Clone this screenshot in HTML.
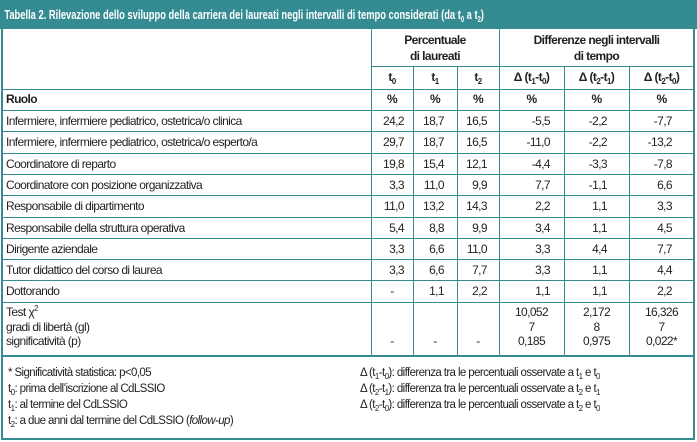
<!DOCTYPE html>
<html><head><meta charset="utf-8"><style>
body{margin:0;width:697px;height:442px;background:#fff;overflow:hidden}
#wrap{position:absolute;left:0;top:0;width:697px;height:442px;font-family:"Liberation Sans Narrow","Liberation Sans",sans-serif;font-size:12px;letter-spacing:-0.6px;color:#231f20}
.title{position:absolute;left:0;top:0;width:697px;height:29px;background:#348c92;color:#fff;font-weight:bold;font-size:13px;letter-spacing:0;line-height:29px;white-space:nowrap;overflow:hidden}
.title span{display:inline-block;transform:scaleX(0.72);transform-origin:left center;padding-left:6px}
.frame{position:absolute;left:1px;top:0;width:694px;height:440px;border:2px solid #348c92;box-sizing:border-box}
.h{position:absolute;height:1px;background:#348c92}
.v{position:absolute;width:1px;background:#348c92}
.t{position:absolute;white-space:nowrap;line-height:15px}
.b{font-weight:bold}
sub{font-size:8px;vertical-align:-3px;line-height:0}
sup{font-size:8px;vertical-align:5px;line-height:0}
.f{font-size:11.5px}
</style></head><body>
<div id="wrap">
<div class="title"><span>Tabella 2. Rilevazione dello sviluppo della carriera dei laureati negli intervalli di tempo considerati (da t<sub>0</sub> a t<sub>2</sub>)</span></div>
<div class="frame"></div>
</div>
<script>
const roles=["Infermiere, infermiere pediatrico, ostetrica/o clinica","Infermiere, infermiere pediatrico, ostetrica/o esperto/a","Coordinatore di reparto","Coordinatore con posizione organizzativa","Responsabile di dipartimento","Responsabile della struttura operativa","Dirigente aziendale","Tutor didattico del corso di laurea","Dottorando"];
const t0=["24,2","29,7","19,8","3,3","11,0","5,4","3,3","3,3","-"];
const t1=["18,7","18,7","15,4","11,0","13,2","8,8","6,6","6,6","1,1"];
const t2=["16,5","16,5","12,1","9,9","14,3","9,9","11,0","7,7","2,2"];
const d10=["-5,5","-11,0","-4,4","7,7","2,2","3,4","3,3","3,3","1,1"];
const d21=["-2,2","-2,2","-3,3","-1,1","1,1","1,1","4,4","1,1","1,1"];
const d20=["-7,7","-13,2","-7,8","6,6","3,3","4,5","7,7","4,4","2,2"];
const g=document.getElementById('wrap');
function add(cls,css,html,name){const e=document.createElement('div');e.className=cls;e.style.cssText=css;if(html!==undefined)e.innerHTML=html;


g.appendChild(e);return e;}
const cols=[371,413,457,499,564,629,694];
const rowTop=111,rh=21.3;
add('h','left:371px;top:66px;width:323px','', 'header-line');
add('h','left:2px;top:89px;width:692px','', 'header-line');
for(let i=0;i<=roles.length;i++)add('h',`left:2px;top:${Math.round(rowTop+i*rh)-1}px;width:692px`,'', 'row-line');
add('h','left:2px;top:355px;width:692px;height:2px','', 'footer-line');
add('v',`left:371px;top:29px;height:326px`,'','col-line');
add('v',`left:499px;top:29px;height:326px`,'','col-line');
[413,457,564,629].forEach(x=>add('v',`left:${x}px;top:66px;height:289px`,'','col-line'));
add('t b',`left:371px;width:128px;top:32px;text-align:center;line-height:16px`,'Percentuale<br>di laureati','header-percentuale');
add('t b',`left:499px;width:195px;top:32px;text-align:center;line-height:16px`,'Differenze negli intervalli<br>di tempo','header-differenze');
const hd=['t<sub>0</sub>','t<sub>1</sub>','t<sub>2</sub>','Δ (t<sub>1</sub>-t<sub>0</sub>)','Δ (t<sub>2</sub>-t<sub>1</sub>)','Δ (t<sub>2</sub>-t<sub>0</sub>)'];
hd.forEach((h,i)=>{add('t b',`left:${cols[i]}px;width:${cols[i+1]-cols[i]}px;top:70px;text-align:center`,h,'col-header');
add('t b',`left:${cols[i]}px;width:${cols[i+1]-cols[i]}px;top:92px;text-align:center`,'%','unit-header');});
add('t b','left:6px;top:92px','Ruolo','ruolo-header');
const series=[t0,t1,t2,d10,d21,d20];
const pads=[9,13,12,14,22,22];
roles.forEach((r,i)=>{const y=Math.round(rowTop+i*rh)+3;
add('t',`left:6px;top:${y}px`,r,'role-label');
series.forEach((s,j)=>{const dash=s[i]==='-';
add('t',`left:${cols[j]}px;width:${cols[j+1]-cols[j]-(dash?0:pads[j])}px;top:${y}px;text-align:${dash?'center':'right'}`,s[i],'cell-value');});});
add('t','left:6px;top:305px;line-height:14.5px','Test χ<sup>2</sup><br>gradi di libertà (gl)<br>significatività (p)','chi-labels');
[0,1,2].forEach(j=>add('t',`left:${cols[j]}px;width:${cols[j+1]-cols[j]}px;top:334px;text-align:center`,'-','chi-dash'));
const chi=[["10,052","7","0,185"],["2,172","8","0,975"],["16,326","7","0,022*"]];
chi.forEach((c,k)=>add('t',`left:${cols[3+k]}px;width:${cols[4+k]-cols[3+k]}px;top:305px;text-align:center;line-height:14.5px`,c.join('<br>'),'chi-values'));
add('t f','left:8px;top:365px;line-height:16px','* Significatività statistica: p&lt;0,05<br>t<sub>0</sub>: prima dell’iscrizione al CdLSSIO<br>t<sub>1</sub>: al termine del CdLSSIO<br>t<sub>2</sub>: a due anni dal termine del CdLSSIO (<i>follow-up</i>)','footnote-left');
add('t f','left:360px;top:365px;line-height:16px','Δ (t<sub>1</sub>-t<sub>0</sub>): differenza tra le percentuali osservate a t<sub>1</sub> e t<sub>0</sub><br>Δ (t<sub>2</sub>-t<sub>1</sub>): differenza tra le percentuali osservate a t<sub>2</sub> e t<sub>1</sub><br>Δ (t<sub>2</sub>-t<sub>0</sub>): differenza tra le percentuali osservate a t<sub>2</sub> e t<sub>0</sub>','footnote-right');
</script>
</body></html>
